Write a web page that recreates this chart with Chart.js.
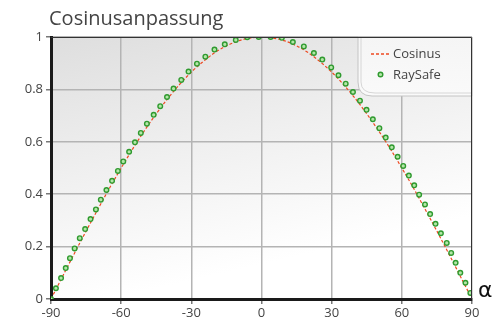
<!DOCTYPE html>
<html>
<head>
<meta charset="utf-8">
<script src="https://cdn.jsdelivr.net/npm/chart.js@4/dist/chart.umd.min.js"></script>
<style>
  html, body { margin: 0; padding: 0; background: #fff; }
  #c { display: block; }
</style>
</head>
<body>
<canvas id="c" width="493" height="325"></canvas>
<script>
// Cosinus (theory), read at 5 degree steps
const cosAngles = [-90,-85,-80,-75,-70,-65,-60,-55,-50,-45,-40,-35,-30,-25,-20,-15,-10,-5,0,5,10,15,20,25,30,35,40,45,50,55,60,65,70,75,80,85,90];
const cosValues = [0,0.087,0.174,0.259,0.342,0.423,0.5,0.574,0.643,0.707,0.766,0.819,0.866,0.906,0.94,0.966,0.985,0.996,1,0.996,0.985,0.966,0.94,0.906,0.866,0.819,0.766,0.707,0.643,0.574,0.5,0.423,0.342,0.259,0.174,0.087,0];

// RaySafe measurements
const rsAngles = [-90,-87.9,-85.7,-83.7,-81.9,-79.9,-77.7,-75.4,-73.1,-70.8,-68.7,-66.3,-63.9,-61.4,-59.1,-56.6,-54.1,-51.6,-49.0,-46.1,-43.3,-40.4,-37.6,-34.3,-31.2,-27.6,-24.0,-20.1,-15.7,-11.0,-6.1,-1.2,3.9,8.7,13.4,18.1,22.4,26.0,29.8,32.9,36.0,39.1,42.1,44.9,47.6,50.4,53.1,55.7,58.2,60.6,63.0,65.3,67.4,69.9,72.1,74.4,76.7,79.2,81.1,83.0,85.0,87.2,89.3];
const rsValues = [0,0.041,0.080,0.118,0.156,0.193,0.232,0.267,0.305,0.342,0.379,0.416,0.451,0.489,0.525,0.562,0.598,0.634,0.669,0.703,0.736,0.771,0.803,0.836,0.868,0.898,0.925,0.952,0.972,0.989,0.999,1.0,1.0,0.997,0.981,0.964,0.939,0.914,0.884,0.854,0.822,0.790,0.757,0.722,0.686,0.652,0.616,0.579,0.543,0.508,0.471,0.434,0.398,0.361,0.324,0.287,0.251,0.214,0.176,0.138,0.100,0.062,0.023];

const xTicks = [-90,-60,-30,0,30,60,90];
const yTicks = [0,0.2,0.4,0.6,0.8,1];

const FONT = '"Open Sans", Lato, sans-serif';

const backdrop = {
  id: 'backdrop',
  beforeDraw(chart) {
    const { ctx, chartArea: a } = chart;
    const g = ctx.createLinearGradient(a.left, a.top, a.left + 60, a.bottom);
    g.addColorStop(0, '#dedede');
    g.addColorStop(0.5, '#efefef');
    g.addColorStop(1, '#ffffff');
    ctx.save();
    ctx.fillStyle = g;
    ctx.fillRect(a.left, a.top, a.right - a.left, a.bottom - a.top);
    ctx.restore();
  },
  afterDatasetsDraw(chart) {
    const { ctx, chartArea: a } = chart;
    ctx.save();
    // legend box
    const lx = 358, ly = a.top, lr = a.right, lb = 96, rad = 14;
    ctx.beginPath();
    ctx.moveTo(lx, ly);
    ctx.lineTo(lx, lb - rad);
    ctx.quadraticCurveTo(lx, lb, lx + rad, lb);
    ctx.lineTo(lr, lb);
    ctx.lineTo(lr, ly);
    ctx.closePath();
    const lg = ctx.createLinearGradient(lx, ly, lx, lb);
    lg.addColorStop(0, '#f5f5f5');
    lg.addColorStop(1, '#fafafa');
    ctx.fillStyle = lg;
    ctx.fill();
    ctx.strokeStyle = '#c4c4c4';
    ctx.lineWidth = 1;
    ctx.stroke();
    ctx.beginPath();
    ctx.moveTo(lx + 3, ly);
    ctx.lineTo(lx + 3, lb - rad);
    ctx.quadraticCurveTo(lx + 3, lb - 3, lx + rad + 3, lb - 3);
    ctx.lineTo(lr, lb - 3);
    ctx.strokeStyle = '#d6d6d6';
    ctx.stroke();

    // legend entries
    ctx.strokeStyle = '#ee4a22';
    ctx.lineWidth = 1.5;
    ctx.setLineDash([3, 2]);
    ctx.beginPath();
    ctx.moveTo(371, 54);
    ctx.lineTo(389, 54);
    ctx.stroke();
    ctx.setLineDash([]);
    ctx.beginPath();
    ctx.arc(380.5, 74.5, 2.3, 0, Math.PI * 2);
    ctx.fillStyle = '#b4e6a8';
    ctx.fill();
    ctx.strokeStyle = '#2f9a2f';
    ctx.lineWidth = 1.4;
    ctx.stroke();
    ctx.fillStyle = '#444';
    ctx.font = '13px ' + FONT;
    ctx.textBaseline = 'middle';
    ctx.fillText('Cosinus', 393, 54);
    ctx.fillText('RaySafe', 393, 75);

    // frame top/right
    ctx.strokeStyle = '#333';
    ctx.lineWidth = 1;
    ctx.beginPath();
    ctx.moveTo(a.left, a.top + 0.5);
    ctx.lineTo(a.right - 0.5, a.top + 0.5);
    ctx.lineTo(a.right - 0.5, a.bottom);
    ctx.stroke();
    ctx.restore();
  },
  afterDraw(chart) {
    const { ctx, chartArea: a } = chart;
    ctx.save();
    ctx.fillStyle = '#444';
    ctx.font = '20px ' + FONT;
    ctx.textBaseline = 'alphabetic';
    ctx.fillText('Cosinusanpassung', 49, 25);
    ctx.fillStyle = '#111';
    ctx.font = '22px "DejaVu Sans", sans-serif';
    ctx.fillText('\u03b1', a.right + 6, a.bottom - 2);
    ctx.restore();
  }
};

new Chart(document.getElementById('c'), {
  type: 'scatter',
  data: {
    datasets: [
      {
        label: 'RaySafe',
        data: rsAngles.map((x, i) => ({ x: x, y: rsValues[i] })),
        pointRadius: 2.3,
        pointBackgroundColor: '#b4e6a8',
        pointBorderColor: '#2f9a2f',
        pointBorderWidth: 1.4,
        showLine: false,
        order: 0
      },
      {
        label: 'Cosinus',
        data: cosAngles.map((x, i) => ({ x: x, y: cosValues[i] })),
        showLine: true,
        borderColor: '#ee4a22',
        borderWidth: 1.2,
        borderDash: [3, 2],
        pointRadius: 0,
        cubicInterpolationMode: 'monotone',
        order: 1
      }
    ]
  },
  options: {
    responsive: false,
    animation: false,
    layout: { padding: { top: 37, right: 21, left: 0, bottom: 0 } },
    plugins: { legend: { display: false }, tooltip: { enabled: false } },
    scales: {
      x: {
        type: 'linear',
        min: -90,
        max: 90,
        afterBuildTicks(scale) { scale.ticks = xTicks.map(v => ({ value: v })); },
        afterFit(scale) { scale.height = 26; },
        grid: { color: '#b4b4b4', lineWidth: 1.5, tickColor: '#777', tickLength: 5 },
        border: { color: '#1a1a1a', width: 3 },
        ticks: { color: '#444', font: { family: FONT, size: 13 }, padding: 1 }
      },
      y: {
        min: 0,
        max: 1,
        afterBuildTicks(scale) { scale.ticks = yTicks.map(v => ({ value: v })); },
        afterFit(scale) { scale.width = 51; },
        grid: { color: '#b4b4b4', lineWidth: 1.5, tickColor: '#777', tickLength: 5 },
        border: { color: '#1a1a1a', width: 3 },
        ticks: { color: '#444', font: { family: FONT, size: 13 }, padding: 3, callback: v => String(v) }
      }
    }
  },
  plugins: [backdrop]
});
</script>
</body>
</html>
